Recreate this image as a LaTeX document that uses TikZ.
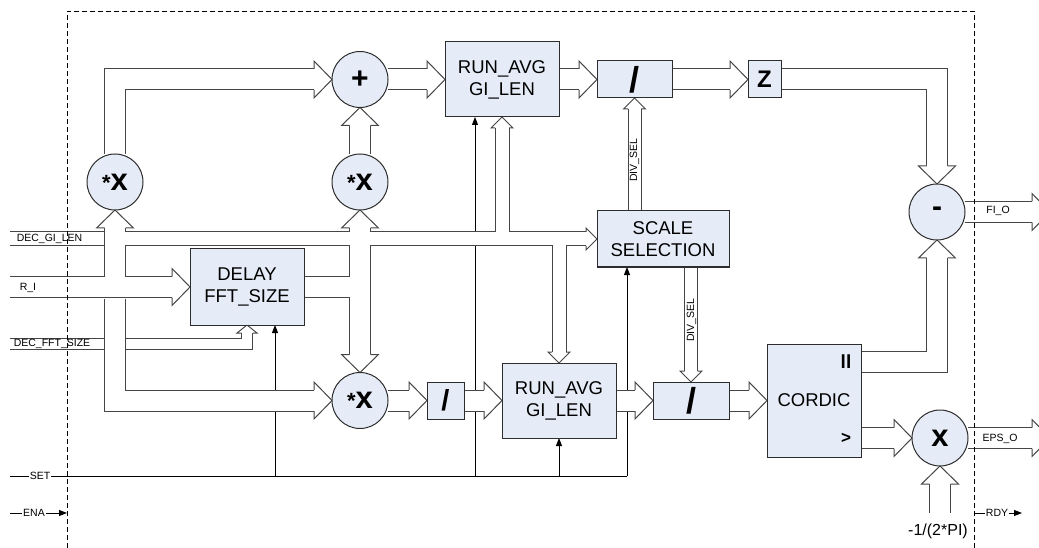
\documentclass[tikz,border=0pt]{standalone}
\usepackage{fontspec}
\setmainfont{Liberation Sans}
\usetikzlibrary{arrows.meta,calc}
\pgfdeclarelayer{bg}
\pgfsetlayers{bg,main}
\definecolor{boxfill}{RGB}{230,236,247}
\definecolor{ln}{RGB}{45,45,45}
\definecolor{bl}{RGB}{70,70,70}
\newcommand\mymulx{{\bfseries\fontsize{22}{22}\selectfont *}{\bfseries\fontsize{31}{31}\selectfont x}\hspace{12pt}}
\newcommand\myslash[1]{{\bfseries\fontsize{#1}{#1}\selectfont /}}
\newcommand\wbus[1]{\draw[bk=22pt] #1; \draw[wh=20pt] #1;}
\newcommand\nbus[1]{\draw[bk=14pt] #1; \draw[wh=12pt] #1;}
\tikzset{
  blk/.style={draw=ln, fill=boxfill, line width=1pt, inner sep=0pt, outer sep=0pt,
    align=center, font=\fontsize{18.5}{22}\selectfont},
  rbox/.style={blk, minimum width=114pt, minimum height=75pt},
  circ/.style={circle, draw=ln, fill=boxfill, line width=1pt, minimum size=56pt,
    inner sep=0pt, outer sep=0pt},
  sig/.style={draw=black, line width=0.9pt},
  sigarr/.style={sig, -{Triangle[length=8pt,width=6pt]}},
  tiny/.style={font=\fontsize{10.5}{12}\selectfont, inner sep=1pt},
  bk/.style={draw=bl, line width=#1, line join=miter},
  wh/.style={draw=white, line width=#1, line join=miter},
  pics/hd/.style args={#1/#2/#3}{code={
    \fill[white] (-#3,-#1) -- (-#3,-#2) -- (0,0) -- (-#3,#2) -- (-#3,#1) -- cycle;
    \draw[bl, line width=1pt, line join=miter] (-#3,-#1) -- (-#3,-#2) -- (0,0) -- (-#3,#2) -- (-#3,#1);}},
}
\begin{document}
\begin{tikzpicture}[x=1pt,y=-1pt]
\useasboundingbox (0,0) rectangle (1039,548);
\clip (0,0) rectangle (1039,548);

% ---------- blocks ----------
\node[circ] (plus) at (360,79.5) {\bfseries\fontsize{30}{30}\selectfont +};
\node[circ] (lx) at (115,182) {\mymulx};
\node[circ] (mx) at (360,182) {\mymulx};
\node[circ] (bx) at (360,400.5) {\mymulx};
\node[circ] (minus) at (937,212) {\raisebox{-3pt}{\bfseries\fontsize{30}{30}\selectfont -}};
\node[circ] (xm) at (940,438) {\bfseries\fontsize{31}{31}\selectfont x};
\node[rbox] (ra1) at (502,79.5) {RUN\_AVG\\GI\_LEN};
\node[blk, minimum width=75pt, minimum height=37pt] (div1) at (634.5,79.5) {\myslash{36}};
\node[blk, minimum width=33pt, minimum height=37pt] (z) at (764.5,79.5) {\bfseries\fontsize{24}{24}\selectfont Z};
\node[blk, minimum width=132pt, minimum height=56pt] (scale) at (663,239) {SCALE\\SELECTION};
\node[rbox, minimum height=76pt] (delay) at (247,287) {DELAY\\FFT\_SIZE};
\node[blk, minimum width=37pt, minimum height=37pt] (div0) at (445.5,400.5) {\myslash{29}};
\node[rbox] (ra2) at (559,400.5) {RUN\_AVG\\GI\_LEN};
\node[blk, minimum width=76pt, minimum height=37pt] (div2) at (691,400.5) {\myslash{36}};
\node[blk, minimum width=94pt, minimum height=113pt] (cordic) at (814,400.5) {CORDIC};
\node[font=\bfseries\fontsize{19}{19}\selectfont, inner sep=0pt] (ll) at (846,362) {ll};
\node[font=\bfseries\fontsize{17}{17}\selectfont, inner sep=0pt] (gt) at (846,438) {>};

% ---------- free ends ----------
\coordinate (riin) at (10,287);
\coordinate (decin) at (10,239);
\coordinate (fftin) at (10,344);
\coordinate (setin) at (10,476);
\coordinate (setend) at (627,476);
\coordinate (s1) at (275,476);
\coordinate (s2) at (475,476);
\coordinate (enain) at (10,513);
\coordinate (enaend) at (67,513);
\coordinate (rdyin) at (975,513);
\coordinate (rdyend) at (1022,513);
\coordinate (fio) at (1050,212);
\coordinate (epso) at (1050,438);
\coordinate (cin) at (940,513);

\begin{pgfonlayer}{bg}
% thin control lines
\draw[sig] (setin) -- (setend);
\draw[sigarr] (setend) -- (setend |- scale.south);
\draw[sigarr] (s1) -- (s1 |- delay.south);
\draw[sigarr] (s2) -- (s2 |- ra1.south);
\draw[sigarr] (ra2.south |- setin) -- (ra2.south);
\draw[sigarr] (enain) -- (enaend);
\draw[sigarr] (rdyin) -- (rdyend);

% DEC_FFT_SIZE bus
\def\pFFT{(fftin) -- (fftin -| delay) -- ($(delay.south)+(0,8)$)}
\draw[bk=12pt] \pFFT; \draw[wh=10pt] \pFFT;

% merged group
\def\pAw{(riin) -- ($(delay.west)+(-18,0)$)
  (riin -| lx) -- ($(lx.south)+(0,18)$)
  ($(mx.south)+(0,18)$) -- ($(bx.north)+(0,-18)$)
  (delay.east) -- (delay.east -| mx)}
\def\pAn{(decin -| lx) -- ($(scale.west)+(-11,0)$)
  (decin -| ra1) -- ($(ra1.south)+(0,11)$)
  (decin -| ra2) -- ($(ra2.north)+(0,-11)$)}
\draw[bk=22pt] \pAw; \draw[bk=15pt] \pAn;
\draw[wh=20pt] \pAw; \draw[wh=13pt] \pAn;
\def\pDl{(decin) -- ($(decin -| lx)+(-11,0)$)}
\draw[bk=15pt] \pDl; \draw[wh=13pt] \pDl;

% R_I down to bottom multiplier
\def\pB{($(riin -| lx)+(0,11.5)$) -- (lx |- bx) -- ($(bx.west)+(-18,0)$)}
\draw[bk=22pt] \pB; \draw[wh=20pt] \pB;

% other buses
\wbus{(lx) -- (lx |- plus) -- ($(plus.west)+(-18,0)$)}
\wbus{(mx) -- ($(plus.south)+(0,18)$)}
\wbus{(plus) -- ($(ra1.west)+(-18,0)$)}
\wbus{(ra1) -- ($(div1.west)+(-18,0)$)}
\wbus{(div1) -- ($(z.west)+(-18,0)$)}
\wbus{(z) -- (z -| minus) -- ($(minus.north)+(0,-18)$)}
\wbus{(minus) -- ($(fio)+(-18,0)$)}
\wbus{(ll -| cordic) -- (ll -| minus) -- ($(minus.south)+(0,18)$)}
\wbus{(gt -| cordic) -- ($(xm.west)+(-18,0)$)}
\wbus{(xm) -- ($(epso)+(-18,0)$)}
\wbus{(cin) -- ($(xm.south)+(0,18)$)}
\wbus{(bx) -- ($(div0.west)+(-18,0)$)}
\wbus{(div0) -- ($(ra2.west)+(-18,0)$)}
\wbus{(ra2) -- ($(div2.west)+(-18,0)$)}
\wbus{(div2) -- ($(cordic.west)+(-18,0)$)}
\nbus{(scale -| div1) -- ($(div1.south)+(0,11)$)}
\nbus{(scale -| div2) -- ($(div2.north)+(0,-11)$)}

% hollow arrow heads
\pic at (delay.west) {hd=10.5/18.5/18};
\pic[rotate=90] at (lx.south) {hd=10.5/18.5/18};
\pic[rotate=90] at (mx.south) {hd=10.5/18.5/18};
\pic[rotate=-90] at (bx.north) {hd=10.5/18.5/18};
\pic at (bx.west) {hd=10.5/18.5/18};
\pic at (plus.west) {hd=10.5/18.5/18};
\pic[rotate=90] at (plus.south) {hd=10.5/18.5/18};
\pic at (ra1.west) {hd=10.5/18.5/18};
\pic at (div1.west) {hd=10.5/18.5/18};
\pic at (z.west) {hd=10.5/18.5/18};
\pic[rotate=-90] at (minus.north) {hd=10.5/18.5/18};
\pic[rotate=90] at (minus.south) {hd=10.5/18.5/18};
\pic at (fio) {hd=10.5/18.5/18};
\pic at (xm.west) {hd=10.5/18.5/18};
\pic[rotate=90] at (xm.south) {hd=10.5/18.5/18};
\pic at (epso) {hd=10.5/18.5/18};
\pic at (div0.west) {hd=10.5/18.5/18};
\pic at (ra2.west) {hd=10.5/18.5/18};
\pic at (div2.west) {hd=10.5/18.5/18};
\pic at (cordic.west) {hd=10.5/18.5/18};
\pic at (scale.west) {hd=7/11/11};
\pic[rotate=90] at (ra1.south) {hd=7/11/11};
\pic[rotate=-90] at (ra2.north) {hd=7/11/11};
\pic[rotate=90] at (div1.south) {hd=6.5/11/11};
\pic[rotate=-90] at (div2.north) {hd=6.5/11/11};
\pic[rotate=90] at (delay.south) {hd=5.5/10/8};
\end{pgfonlayer}

% ---------- labels ----------
\node[tiny] (lbdec) at (49.5,239) {DEC\_GI\_LEN};
\node[tiny] (lbri) at (28,288) {R\_I};
\node[tiny] (lbfft) at (52,344) {DEC\_FFT\_SIZE};
\node[tiny, rotate=90] (lbds1) at (634.5,160) {DIV\_SEL};
\node[tiny, rotate=90] (lbds2) at (691.5,320) {DIV\_SEL};
\node[tiny] (lbfio) at (998,211) {FI\_O};
\node[tiny] (lbeps) at (1000,439) {EPS\_O};
\node[tiny, fill=white] (lbset) at (40,476) {SET};
\node[tiny, fill=white] (lbena) at (34,513) {ENA};
\node[tiny, fill=white] (lbrdy) at (997,513) {RDY};
\node[font=\fontsize{16}{18}\selectfont, inner sep=1pt] (lbcst) at (938,531) {-1/(2*PI)};

% ---------- dashed boundary ----------
\draw[black, line width=0.9pt, dash pattern=on 5pt off 3pt] (67,548) -- (67,11) -- (974,11) -- (974,548);
\end{tikzpicture}
\end{document}
